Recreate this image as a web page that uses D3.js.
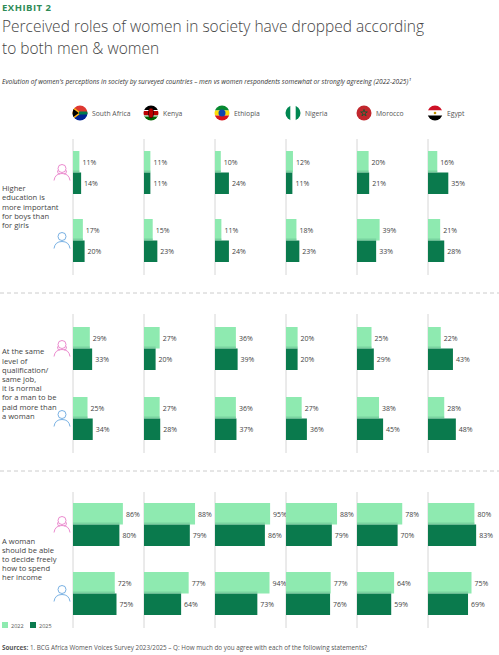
<!DOCTYPE html>
<html><head><meta charset="utf-8">
<script src="https://cdn.jsdelivr.net/npm/d3@7/dist/d3.min.js"></script>
<style>body{margin:0;background:#fff;font-family:"Open Sans",sans-serif}</style>
</head><body><svg id="c" width="499" height="655"></svg>
<script>
const countries=["South Africa","Kenya","Ethiopia","Nigeria","Morocco","Egypt"];
const statements=[["Higher","education is","more important","for boys than","for girls"],["At the same","level of","qualification/","same job,","it is normal","for a man to be","paid more than","a woman"],["A woman","should be able","to decide freely","how to spend","her income"]];
const years=["2022","2025"];
const women2022=[[11,11,10,12,20,16],[29,27,36,20,25,22],[86,88,95,88,78,80]];
const women2025=[[14,11,24,11,21,35],[33,20,39,20,29,43],[80,79,86,79,70,83]];
const men2022=[[17,15,11,18,39,21],[25,27,36,27,38,28],[72,77,94,77,64,75]];
const men2025=[[20,23,24,23,33,28],[34,28,37,36,45,48],[75,64,73,76,59,69]];

const svg=d3.select("#c");
const light="#8eeab0",dark="#0a7a4d",txt="#444";
svg.append("text").attr("x",2).attr("y",11).text("EXHIBIT 2").attr("fill","#2e8b57").attr("font-size",9.5).attr("font-weight",700).attr("letter-spacing",0.5);
svg.append("text").attr("x",2).attr("y",32).text("Perceived roles of women in society have dropped according").attr("fill","#444").attr("font-size",15.5).attr("font-weight",300);
svg.append("text").attr("x",2).attr("y",54).text("to both men & women").attr("fill","#444").attr("font-size",15.5).attr("font-weight",300);
svg.append("text").attr("x",2).attr("y",84).text("Evolution of women's perceptions in society by surveyed countries – men vs women respondents somewhat or strongly agreeing  (2022-2025)¹").attr("fill","#333").attr("font-size",6.6).attr("font-style","italic");

const x0=d3.scaleBand().domain(countries).range([73,499]).paddingInner(0);
const w=d3.scaleLinear().domain([0,100]).range([0,58]);
// flags
const defs=svg.append("defs");
countries.forEach((c,i)=>{
  const cx=x0(c)+7,cy=113;
  defs.append("clipPath").attr("id","f"+i).append("circle").attr("cx",cx).attr("cy",cy).attr("r",7.5);
  const g=svg.append("g").attr("clip-path",`url(#f${i})`);
  const R=(y,h,col,x=cx-8,ww=16)=>g.append("rect").attr("x",x).attr("y",y).attr("width",ww).attr("height",h).attr("fill",col);
  if(i==0){R(cy-8,8,"#de3831");R(cy,8,"#002395");g.append("path").attr("d",`M${cx-8},${cy-6}L${cx},${cy}L${cx-8},${cy+6}Z`).attr("fill","#000").attr("stroke","#ffb612").attr("stroke-width",1.5);g.append("path").attr("d",`M${cx-1},${cy-1.5}h9v3h-9z`).attr("fill","#007a4d");}
  if(i==1){R(cy-8,5.5,"#000");R(cy-2.5,5,"#bb0000");R(cy+2.5,5.5,"#006600");R(cy-3,1,"#fff");R(cy+2.5,1,"#fff");g.append("ellipse").attr("cx",cx).attr("cy",cy).attr("rx",2.5).attr("ry",5).attr("fill","#bb0000").attr("stroke","#000").attr("stroke-width",0.6);}
  if(i==2){R(cy-8,5.5,"#078930");R(cy-2.5,5,"#fcdd09");R(cy+2.5,5.5,"#da121a");g.append("circle").attr("cx",cx).attr("cy",cy).attr("r",3.5).attr("fill","#0f47af");}
  if(i==3){R(cy-8,16,"#fff");R(cy-8,16,"#008751",cx-8,5.3);R(cy-8,16,"#008751",cx+2.7,5.3);}
  if(i==4){R(cy-8,16,"#c1272d");g.append("path").attr("d",d3.symbol(d3.symbolStar,14)()).attr("transform",`translate(${cx},${cy})`).attr("fill","none").attr("stroke","#006233").attr("stroke-width",0.8);}
  if(i==5){R(cy-8,5.5,"#ce1126");R(cy-2.5,5,"#fff");R(cy+2.5,5.5,"#000");g.append("circle").attr("cx",cx).attr("cy",cy).attr("r",1.3).attr("fill","#c09300");}
  svg.append("text").attr("x",cx+12).attr("y",cy+3).text(c).attr("font-size",6.8).attr("fill","#555");
});

const sections=[{top:139,fy:151,my:219},{top:314,fy:327,my:397},{top:492,fy:503,my:572}];
const bh=21.5;
function icon(cx,cy,col,female){
  const g=svg.append("g").attr("fill","none").attr("stroke",col).attr("stroke-width",0.9);
  g.append("circle").attr("cx",cx).attr("cy",cy-4).attr("r",4);
  if(female)g.append("path").attr("d",`M${cx-4.5},${cy-2}Q${cx-4},${cy+3} ${cx-2},${cy+1}M${cx+4.5},${cy-2}Q${cx+4},${cy+3} ${cx+2},${cy+1}`);
  g.append("path").attr("d",`M${cx-8},${cy+8}Q${cx-7},${cy+1} ${cx},${cy+1}Q${cx+7},${cy+1} ${cx+8},${cy+8}`);
}
sections.forEach((s,si)=>{
  const bot=s.my+2*bh+13;
  countries.forEach(c=>svg.append("line").attr("x1",x0(c)).attr("x2",x0(c)).attr("y1",s.top).attr("y2",bot).attr("stroke","#ccc").attr("stroke-width",0.8));
  const mid=(s.fy+s.my+2*bh)/2;
  const lines=statements[si];
  lines.forEach((l,k)=>svg.append("text").attr("x",2).attr("y",mid-(lines.length-1)*4.6+k*9.2+3).text(l).attr("font-size",7.6).attr("fill","#444"));
  icon(62,s.fy+bh,"#e87ec8",true);
  icon(62,s.my+bh,"#6aa8e0",false);
  [[women2022,women2025,s.fy],[men2022,men2025,s.my]].forEach(([a,b,y])=>{
    countries.forEach((c,ci)=>{
      [[a,light,y],[b,dark,y+bh]].forEach(([arr,col,yy])=>{
        const v=arr[si][ci];
        svg.append("rect").attr("x",x0(c)).attr("y",yy).attr("width",w(v)).attr("height",bh).attr("fill",col);
        svg.append("text").attr("x",x0(c)+w(v)+3).attr("y",yy+bh/2+3).text(v+"%").attr("font-size",7).attr("fill",txt);
      });
      svg.append("rect").attr("x",x0(c)).attr("y",y+bh-2).attr("width",Math.min(w(a[si][ci]),w(b[si][ci]))).attr("height",2).attr("fill","#6cc596").attr("opacity",0.6);
    });
  });
  if(si<2)svg.append("line").attr("x1",0).attr("x2",499).attr("y1",bot+18).attr("y2",bot+18).attr("stroke","#ccc").attr("stroke-dasharray","4,3");
});
// legend
[[light,years[0],2],[dark,years[1],30]].forEach(([col,t,x])=>{
  svg.append("rect").attr("x",x).attr("y",622).attr("width",6).attr("height",6).attr("fill",col);
  svg.append("text").attr("x",x+9).attr("y",628).text(t).attr("font-size",5.5).attr("fill","#555");
});
const src=svg.append("text").attr("x",2).attr("y",650).attr("font-size",6.3).attr("fill","#555");
src.append("tspan").text("Sources: ").attr("font-weight",700);
src.append("tspan").text("1. BCG Africa Women Voices Survey 2023/2025 – Q: How much do you agree with each of the following statements?");
</script></body></html>
